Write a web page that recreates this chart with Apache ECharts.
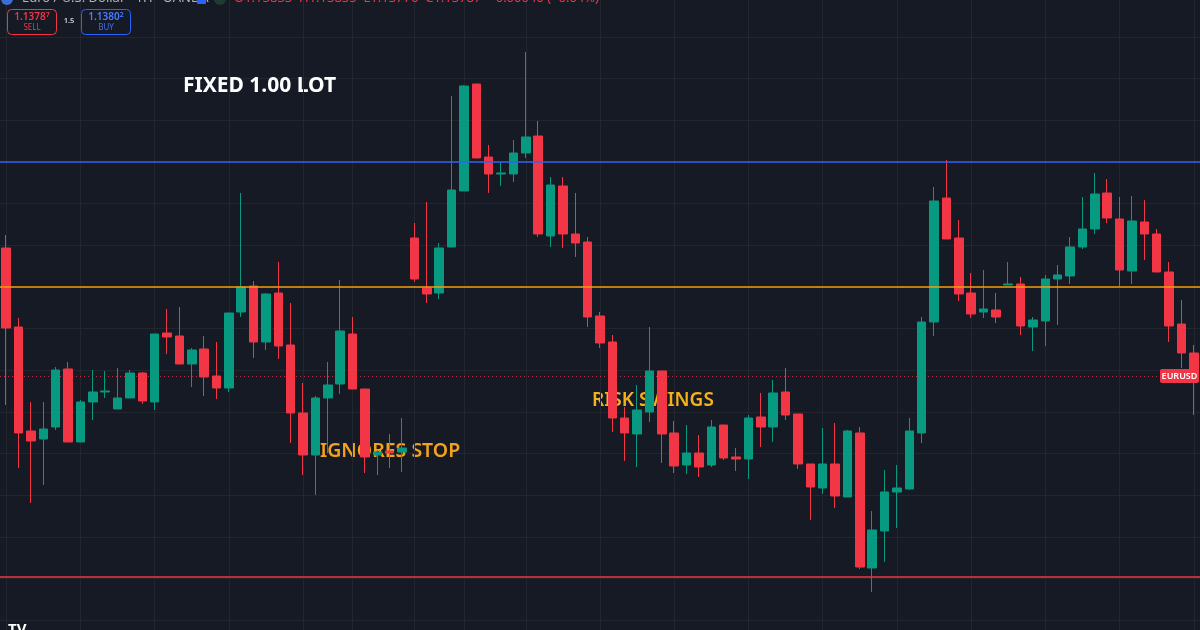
<!DOCTYPE html>
<html>
<head>
<meta charset="utf-8">
<script src="https://cdn.jsdelivr.net/npm/echarts@6/dist/echarts.min.js"></script>
<style>
  html, body { margin: 0; padding: 0; background: #161a25; overflow: hidden; }
  /* the price range runs a little past the window, so the chart box is taller and shifted up */
  #chart { position: absolute; left: 0; top: -5px; width: 1200px; height: 672px; }
</style>
</head>
<body>
<div id="chart"></div>
<script>
// EURUSD 1H candles
const opens = [
  1.139468, 1.138520, 1.137272, 1.137176, 1.137320, 1.138016, 1.137140, 1.137620, 1.137740, 1.137536,
  1.137668, 1.137968, 1.137620, 1.138448, 1.138412, 1.138076, 1.138256, 1.137932, 1.137788, 1.138700,
  1.139012, 1.138340, 1.138928, 1.138304, 1.137488, 1.136984, 1.137668, 1.137836, 1.138436, 1.137776,
  1.136984, 1.137032, 1.137020, 1.139588, 1.138988, 1.138928, 1.139480, 1.140152, 1.141436, 1.140560,
  1.140356, 1.140356, 1.140608, 1.140812, 1.139612, 1.140212, 1.139636, 1.139540, 1.138652, 1.138340,
  1.137428, 1.137236, 1.137500, 1.137992, 1.137248, 1.136864, 1.137008, 1.136864, 1.137344, 1.136960,
  1.136936, 1.137440, 1.137320, 1.137740, 1.137476, 1.136876, 1.136588, 1.136876, 1.136480, 1.137248,
  1.135628, 1.136072, 1.136540, 1.136576, 1.137248, 1.138580, 1.140068, 1.139588, 1.138928, 1.138700,
  1.138724, 1.139024, 1.139036, 1.138520, 1.138592, 1.139096, 1.139132, 1.139480, 1.139696, 1.140128,
  1.139816, 1.139192, 1.139780, 1.139636, 1.139180, 1.138556, 1.138208
]
const closes = [
  1.138508, 1.137248, 1.137152, 1.137296, 1.138004, 1.137140, 1.137620, 1.137740, 1.137752, 1.137668,
  1.137968, 1.137632, 1.138436, 1.138400, 1.138076, 1.138244, 1.137920, 1.137788, 1.138688, 1.139000,
  1.138340, 1.138916, 1.138292, 1.137488, 1.136984, 1.137668, 1.137824, 1.138472, 1.137776, 1.136960,
  1.137020, 1.137008, 1.137068, 1.139096, 1.138916, 1.139468, 1.140164, 1.141412, 1.140548, 1.140356,
  1.140368, 1.140608, 1.140800, 1.139636, 1.140224, 1.139636, 1.139528, 1.138640, 1.138328, 1.137428,
  1.137248, 1.137524, 1.137992, 1.137236, 1.136852, 1.137008, 1.136840, 1.137320, 1.136948, 1.136936,
  1.137428, 1.137320, 1.137728, 1.137464, 1.136876, 1.136600, 1.136876, 1.136492, 1.137272, 1.135640,
  1.136084, 1.136540, 1.136588, 1.137272, 1.138580, 1.140032, 1.139576, 1.138916, 1.138676, 1.138736,
  1.138640, 1.139036, 1.138532, 1.138604, 1.139096, 1.139144, 1.139480, 1.139696, 1.140116, 1.139828,
  1.139204, 1.139792, 1.139636, 1.139180, 1.138532, 1.138208, 1.137932
]
const lows = [
  1.137584, 1.136828, 1.136408, 1.136624, 1.137284, 1.137140, 1.137140, 1.137404, 1.137668, 1.137536,
  1.137668, 1.137596, 1.137524, 1.138196, 1.138076, 1.137800, 1.137692, 1.137656, 1.137740, 1.138640,
  1.138148, 1.138244, 1.138136, 1.137128, 1.136744, 1.136504, 1.137008, 1.137716, 1.137776, 1.136768,
  1.136744, 1.136828, 1.136780, 1.139060, 1.138808, 1.138856, 1.139480, 1.140152, 1.140548, 1.140128,
  1.140212, 1.140260, 1.140548, 1.139600, 1.139480, 1.139468, 1.139360, 1.138520, 1.138268, 1.137260,
  1.136912, 1.136840, 1.137380, 1.136888, 1.136768, 1.136756, 1.136720, 1.136840, 1.136924, 1.136792,
  1.136696, 1.137080, 1.137140, 1.137404, 1.136816, 1.136204, 1.136516, 1.136348, 1.136480, 1.135616,
  1.135340, 1.135700, 1.136108, 1.136564, 1.137128, 1.138412, 1.139576, 1.138832, 1.138628, 1.138628,
  1.138568, 1.139024, 1.138424, 1.138232, 1.138292, 1.138544, 1.139036, 1.139456, 1.139636, 1.139768,
  1.139012, 1.139036, 1.139324, 1.139180, 1.138340, 1.138028, 1.137464
]
const highs = [
  1.139624, 1.138628, 1.137620, 1.137620, 1.138040, 1.138100, 1.137644, 1.138004, 1.137992, 1.138028,
  1.138004, 1.137980, 1.138436, 1.138736, 1.138760, 1.138268, 1.138412, 1.138340, 1.138688, 1.140128,
  1.139072, 1.138928, 1.139300, 1.138808, 1.137848, 1.137692, 1.138100, 1.139084, 1.138640, 1.137776,
  1.137044, 1.137236, 1.137428, 1.139768, 1.140020, 1.139528, 1.141292, 1.141424, 1.141436, 1.140704,
  1.140500, 1.140764, 1.141820, 1.140992, 1.140320, 1.140320, 1.140128, 1.139600, 1.138700, 1.138424,
  1.137560, 1.137824, 1.138520, 1.137992, 1.137392, 1.137344, 1.137224, 1.137404, 1.137344, 1.137068,
  1.137464, 1.137728, 1.137884, 1.138028, 1.137476, 1.136876, 1.137308, 1.137368, 1.137284, 1.137320,
  1.136312, 1.136804, 1.136864, 1.137428, 1.138640, 1.140200, 1.140524, 1.139804, 1.139168, 1.139204,
  1.138928, 1.139300, 1.139120, 1.138640, 1.139144, 1.139264, 1.139600, 1.140080, 1.140368, 1.140296,
  1.140080, 1.140092, 1.140044, 1.139696, 1.139300, 1.138844, 1.138304
]

// horizontal levels drawn on the chart
const levelBlue = 1.1405
const levelOrange = 1.1390
const levelRed = 1.13552
const lastPrice = 1.137932

// candle indexes where the time grid lines fall
const timeGridIdx = [0, 6, 12, 18, 24, 28, 33, 37, 42, 48, 54, 60, 66, 72, 78, 84, 90, 96]

const times = []
for (let i = 0; i < opens.length; i++) {
  const d = new Date(Date.UTC(2025, 5, 2, 0) + i * 3600000)
  times.push(d.toISOString().slice(0, 13).replace('T', ' ') + ':00')
}

const UP = '#089981'
const DOWN = '#f23645'
const OY = 5 // chart box starts 5px above the window

const candles = opens.map((o, i) => [o, closes[i], lows[i], highs[i]])

const chart = echarts.init(document.getElementById('chart'))

chart.setOption({
  animation: false,
  backgroundColor: '#161a25',
  grid: { left: 0, right: 0, top: 0.33, height: 666.67 },
  xAxis: {
    type: 'category',
    data: times,
    boundaryGap: true,
    axisLine: { show: false },
    axisTick: { show: false },
    axisLabel: { show: false },
    splitLine: { show: false }
  },
  yAxis: {
    type: 'value',
    min: 1.1345,
    max: 1.1425,
    interval: 0.0005,
    axisLine: { show: false },
    axisTick: { show: false },
    axisLabel: { show: false },
    splitLine: { show: true, lineStyle: { color: '#22262f', width: 1 } }
  },
  series: [
    {
      name: 'grid',
      type: 'line',
      data: [],
      silent: true,
      z: 1,
      markLine: {
        z: 1,
        silent: true,
        precision: 6,
        symbol: 'none',
        label: { show: false },
        emphasis: { disabled: true },
        data: timeGridIdx.map(i => ({ xAxis: times[i], lineStyle: { color: '#22262f', width: 1, type: 'solid' } }))
          .concat([{ yAxis: lastPrice, lineStyle: { color: 'rgba(242,54,69,0.75)', width: 1, type: [1, 3] } }])
      }
    },
    {
      name: 'EURUSD',
      type: 'candlestick',
      data: candles,
      barWidth: 9,
      z: 2,
      itemStyle: {
        color: UP,
        color0: DOWN,
        borderColor: UP,
        borderColor0: DOWN,
        borderWidth: 1
      },
      markLine: {
        z: 5,
        silent: true,
        precision: 6,
        symbol: 'none',
        label: { show: false },
        emphasis: { disabled: true },
        data: [
          { yAxis: levelBlue, lineStyle: { color: '#2f62f2', width: 1.5, type: 'solid' } },
          { yAxis: levelOrange, lineStyle: { color: '#f59d0b', width: 1.5, type: 'solid' } },
          { yAxis: levelRed, lineStyle: { color: '#f23645', width: 1.5, type: 'solid' } }
        ]
      }
    }
  ],
  graphic: [
    // annotations (under the candles)
    { type: 'text', z: 1, style: { text: 'FIXED 1.00 LOT', x: 183, y: 86 + OY, fill: '#ffffff', font: 'bold 21px "Noto Sans"', textAlign: 'left', textVerticalAlign: 'middle' } },
    { type: 'text', z: 1, style: { text: 'IGNORES STOP', x: 320, y: 451 + OY, fill: '#f2a21c', font: '600 19.5px "Noto Sans"', textAlign: 'left', textVerticalAlign: 'middle' } },
    { type: 'text', z: 1, style: { text: 'RISK SWINGS', x: 592, y: 401 + OY, fill: '#f5b11a', font: '600 19px "Noto Sans"', textAlign: 'left', textVerticalAlign: 'middle' } },

    // header, cut off at the top
    { type: 'circle', z: 20, shape: { cx: 7, cy: -1 + OY, r: 6 }, style: { fill: '#3b6fd6' } },
    { type: 'text', z: 20, style: { text: 'Euro / U.S. Dollar · 1H · OANDA', x: 22, y: 5 + OY, fill: '#b2b5be', font: '13px "Noto Sans"', textAlign: 'left', textVerticalAlign: 'bottom' } },
    { type: 'rect', z: 20, shape: { x: 197, y: -4 + OY, width: 9, height: 8, r: 1 }, style: { fill: '#2962ff' } },
    { type: 'circle', z: 20, shape: { cx: 220, cy: -1 + OY, r: 6 }, style: { fill: '#1f3b36' } },
    { type: 'text', z: 20, style: { text: 'O1.13833  H1.13835  L1.13776  C1.13787  −0.00046 (−0.04%)', x: 234, y: 5 + OY, fill: '#f23645', font: '13px "Noto Sans"', textAlign: 'left', textVerticalAlign: 'bottom' } },

    // sell / buy boxes
    { type: 'rect', z: 20, shape: { x: 7.5, y: 9.5 + OY, width: 49, height: 25, r: 4 }, style: { fill: '#161a25', stroke: '#f23645', lineWidth: 1 } },
    {
      type: 'text', z: 21,
      style: {
        text: '{a|1.1378}{b|7}', x: 32, y: 17 + OY, textAlign: 'center', textVerticalAlign: 'middle',
        rich: {
          a: { fill: '#f23645', font: '600 10px "Noto Sans"' },
          b: { fill: '#f23645', font: '600 7px "Noto Sans"', padding: [0, 0, 4, 0] }
        }
      }
    },
    { type: 'text', z: 21, style: { text: 'SELL', x: 32, y: 27.5 + OY, fill: '#f23645', font: '8px "Noto Sans"', textAlign: 'center', textVerticalAlign: 'middle' } },
    { type: 'text', z: 21, style: { text: '1.5', x: 69, y: 21 + OY, fill: '#d1d4dc', font: '600 7.5px "Noto Sans"', textAlign: 'center', textVerticalAlign: 'middle' } },
    { type: 'rect', z: 20, shape: { x: 81.5, y: 9.5 + OY, width: 49, height: 25, r: 4 }, style: { fill: '#161a25', stroke: '#2962ff', lineWidth: 1 } },
    {
      type: 'text', z: 21,
      style: {
        text: '{a|1.1380}{b|2}', x: 106, y: 17 + OY, textAlign: 'center', textVerticalAlign: 'middle',
        rich: {
          a: { fill: '#4b7cff', font: '600 10px "Noto Sans"' },
          b: { fill: '#4b7cff', font: '600 7px "Noto Sans"', padding: [0, 0, 4, 0] }
        }
      }
    },
    { type: 'text', z: 21, style: { text: 'BUY', x: 106, y: 27.5 + OY, fill: '#3f6fef', font: '8px "Noto Sans"', textAlign: 'center', textVerticalAlign: 'middle' } },

    // price tag on the right
    { type: 'rect', z: 20, shape: { x: 1160, y: 369 + OY, width: 39, height: 14, r: 2 }, style: { fill: '#f23645' } },
    { type: 'text', z: 21, style: { text: 'EURUSD', x: 1179.5, y: 376.5 + OY, fill: '#ffffff', font: '600 9px "Noto Sans"', textAlign: 'center', textVerticalAlign: 'middle' } },

    // logo, cut off at the bottom
    { type: 'text', z: 20, style: { text: 'TV', x: 8, y: 622 + OY, fill: '#ffffff', font: 'bold 15px "Noto Sans"', textAlign: 'left', textVerticalAlign: 'top' } }
  ]
})

window.addEventListener('resize', () => chart.resize())
</script>
</body>
</html>
